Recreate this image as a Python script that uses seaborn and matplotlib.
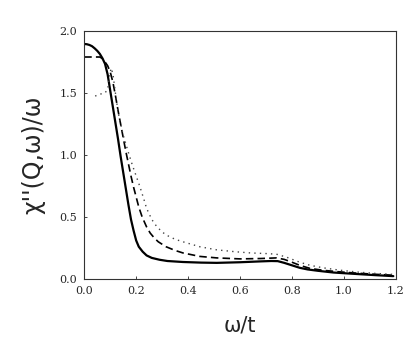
import matplotlib
matplotlib.use("Agg")
import matplotlib.pyplot as plt
import pandas as pd
import seaborn as sns

# Solid curve (omega/t, chi''/omega).
w_solid = [0.0, 0.01, 0.02, 0.03, 0.04, 0.05, 0.06, 0.07, 0.08, 0.09, 0.10,
           0.11, 0.12, 0.13, 0.14, 0.15, 0.16, 0.17, 0.18, 0.19, 0.20, 0.21,
           0.225, 0.24, 0.26, 0.29, 0.32, 0.38, 0.45, 0.51, 0.60, 0.68, 0.72,
           0.745, 0.77, 0.80, 0.83, 0.86, 0.90, 0.96, 1.05, 1.12, 1.19]
chi_solid = [1.895, 1.893, 1.887, 1.877, 1.86, 1.84, 1.815, 1.78, 1.735, 1.65, 1.52,
             1.39, 1.26, 1.13, 0.99, 0.86, 0.73, 0.60, 0.48, 0.39, 0.31, 0.26,
             0.22, 0.19, 0.17, 0.155, 0.145, 0.137, 0.132, 0.13, 0.135, 0.142, 0.145,
             0.144, 0.13, 0.11, 0.09, 0.077, 0.066, 0.052, 0.04, 0.031, 0.023]

# Dashed curve.
w_dash = [0.0, 0.03, 0.06, 0.07, 0.08, 0.09, 0.10, 0.11, 0.12, 0.13, 0.14, 0.15,
          0.16, 0.17, 0.18, 0.19, 0.20, 0.21, 0.223, 0.24, 0.254, 0.27, 0.285,
          0.30, 0.315, 0.35, 0.38, 0.445, 0.51, 0.60, 0.68, 0.74, 0.77, 0.80,
          0.83, 0.87, 0.92, 0.98, 1.05, 1.12, 1.19]
chi_dash = [1.79, 1.79, 1.79, 1.777, 1.75, 1.72, 1.67, 1.59, 1.48, 1.36, 1.25, 1.14,
            1.03, 0.93, 0.83, 0.74, 0.66, 0.58, 0.50, 0.42, 0.37, 0.33, 0.30,
            0.28, 0.26, 0.23, 0.21, 0.182, 0.17, 0.162, 0.165, 0.17, 0.158, 0.135,
            0.11, 0.085, 0.07, 0.058, 0.047, 0.038, 0.03]

# Dotted curve.
w_dot = [0.042, 0.06, 0.08, 0.09, 0.097, 0.103, 0.11, 0.12, 0.13, 0.14, 0.15,
         0.16, 0.17, 0.185, 0.20, 0.215, 0.23, 0.24, 0.26, 0.28, 0.30, 0.315,
         0.35, 0.38, 0.445, 0.51, 0.58, 0.64, 0.70, 0.74, 0.78, 0.83, 0.87,
         0.92, 0.98, 1.05, 1.12, 1.19]
chi_dot = [1.475, 1.49, 1.50, 1.53, 1.62, 1.70, 1.66, 1.50, 1.35, 1.25, 1.16,
           1.09, 1.02, 0.92, 0.83, 0.74, 0.64, 0.57, 0.48, 0.42, 0.38, 0.355,
           0.32, 0.30, 0.26, 0.235, 0.22, 0.21, 0.205, 0.20, 0.175, 0.135, 0.11,
           0.09, 0.072, 0.056, 0.045, 0.037]

x_ticks = [0.0, 0.2, 0.4, 0.6, 0.8, 1.0, 1.2]
y_ticks = [0.0, 0.5, 1.0, 1.5, 2.0]

sns.set_style("ticks")

fig = plt.figure(figsize=(4.15, 3.44), dpi=100)
ax = fig.add_axes([0.203, 0.189, 0.751, 0.721])

solid = pd.DataFrame({"w": w_solid, "chi": chi_solid})
dash = pd.DataFrame({"w": w_dash, "chi": chi_dash})
dot = pd.DataFrame({"w": w_dot, "chi": chi_dot})

sns.lineplot(data=solid, x="w", y="chi", color="black", lw=1.6, ax=ax)
sns.lineplot(data=dash, x="w", y="chi", color="black", lw=1.2,
             linestyle=(0, (4.5, 2.5)), ax=ax)
sns.lineplot(data=dot, x="w", y="chi", color="#444444", lw=1.0,
             linestyle=(0, (1, 3)), ax=ax)

ax.set_xlim(0, 1.2)
ax.set_ylim(0, 2.0)
ax.set_xticks(x_ticks)
ax.set_yticks(y_ticks)
ax.set_xticklabels([f"{t:.1f}" for t in x_ticks], family="DejaVu Serif", fontsize=8)
ax.set_yticklabels([f"{t:.1f}" for t in y_ticks], family="DejaVu Serif", fontsize=8)
ax.tick_params(direction="in", length=2, width=0.6, pad=5)
for side in ax.spines.values():
    side.set_linewidth(0.8)
    side.set_color("#333333")

ax.set_xlabel("ω/t", fontsize=15, labelpad=14)
ax.set_ylabel("χ''(Q,ω)/ω", fontsize=17, labelpad=10)

fig.savefig("out.png", dpi=100)
